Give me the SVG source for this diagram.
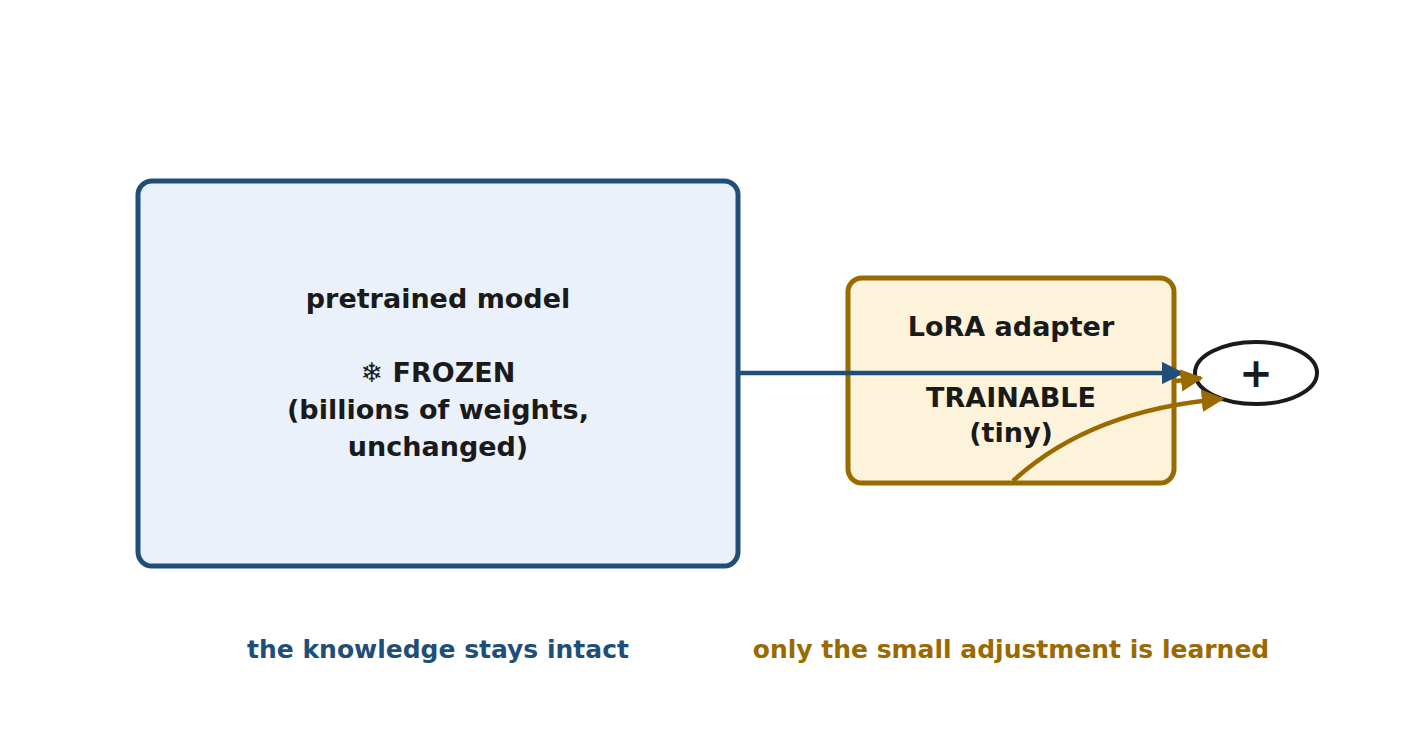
<svg xmlns="http://www.w3.org/2000/svg" width="1421" height="747" viewBox="0 0 1421 747">
<style>
text{font-family:"DejaVu Sans","Noto Sans",sans-serif;font-weight:bold;text-anchor:middle}
.t{fill:#1a1a1a;font-size:27px}
</style>
<defs>
<marker id="ab" viewBox="0 0 10 10" refX="9" refY="5" markerWidth="5" markerHeight="5" orient="auto" markerUnits="strokeWidth"><path d="M0,0L10,5L0,10z" fill="#1f4e79"/></marker>
<marker id="ag" viewBox="0 0 10 10" refX="9" refY="5" markerWidth="5" markerHeight="5" orient="auto" markerUnits="strokeWidth"><path d="M0,0L10,5L0,10z" fill="#9a6a00"/></marker>
</defs>
<rect width="1421" height="747" fill="#fff"/>
<g id="pretrained">
<rect x="138" y="181" width="600" height="385" rx="14" fill="#eaf1fb" stroke="#1f4e79" stroke-width="5"/>
<text class="t" x="438" y="308">pretrained model</text>
<text class="t" x="438" y="382">❄  FROZEN</text>
<text class="t" x="438" y="419">(billions of weights,</text>
<text class="t" x="438" y="456">unchanged)</text>
</g>
<g id="lora">
<rect x="848" y="278" width="326" height="205" rx="14" fill="#fdf3da" stroke="#9a6a00" stroke-width="5"/>
<text class="t" x="1011" y="336">LoRA adapter</text>
<text class="t" x="1011" y="407">TRAINABLE</text>
<text class="t" x="1011" y="442">(tiny)</text>
</g>
<g id="sum">
<ellipse cx="1256" cy="373" rx="61" ry="31" fill="#fff" stroke="#1a1a1a" stroke-width="4"/>
<text x="1256" y="387" font-size="40" fill="#1a1a1a">+</text>
</g>
<g id="connectors" fill="none" stroke-width="4.5">
<path d="M740,373H1182" stroke="#1f4e79" marker-end="url(#ab)"/>
<path d="M1176,381L1201,378" stroke="#9a6a00" marker-end="url(#ag)"/>
<path d="M1013,481Q1090,410 1222,399" stroke="#9a6a00" marker-end="url(#ag)"/>
</g>
<text x="438" y="658" font-size="25" fill="#1f4e79">the knowledge stays intact</text>
<text x="1011" y="658" font-size="25" fill="#9a6a00">only the small adjustment is learned</text>
</svg>
